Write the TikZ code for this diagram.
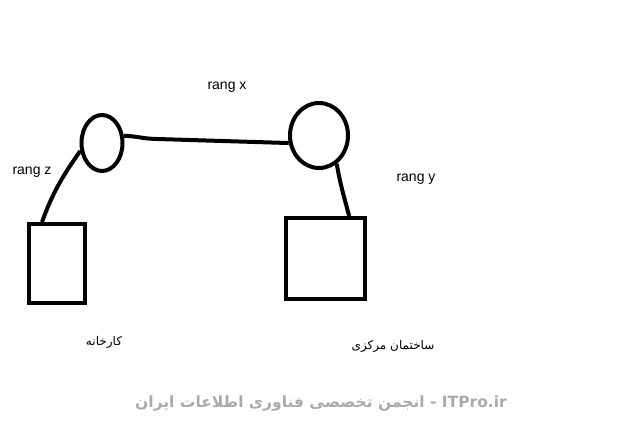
\documentclass[tikz,border=0pt]{standalone}
\usepackage{fontspec}
\setmainfont{Liberation Sans}
\newfontfamily\arabicfont[Script=Arabic]{DejaVu Sans}
\TeXXeTstate=1
\usetikzlibrary{shapes.geometric,calc,positioning}
\definecolor{wmgray}{RGB}{170,170,170}

\begin{document}
\begin{tikzpicture}[x=1pt, y=-1pt, line width=4pt,
    hub/.style={draw, ellipse, inner sep=0pt},
    site/.style={draw, rectangle, inner sep=0pt},
    lbl/.style={font=\fontsize{14}{16}\selectfont, inner sep=0pt},
    fa/.style={font=\arabicfont\fontsize{12}{14}\selectfont, inner sep=0pt}]

    \useasboundingbox[fill=white] (0,0) rectangle (643,427);

    \node[hub, minimum width=41pt, minimum height=56pt]  (zhub)  at (102,143)   {};
    \node[hub, minimum width=58pt, minimum height=65pt]  (yhub)  at (319,135.5) {};
    \node[site, minimum width=56pt, minimum height=79pt] (fact)  at (57,263.5)  {};
    \node[site, minimum width=79pt, minimum height=81pt] (hq)    at (325.5,258.5) {};

    \node[lbl] (rx) at (227,87)  {rang x};
    \node[lbl] (rz) at (32,172)  {rang z};
    \node[lbl] (ry) at (416,179) {rang y};

    \node[fa] (factname) at (104,342) {\beginR کارخانه\endR};
    \node[fa] (hqname)   at (393,346) {\beginR ساختمان مرکزی\endR};

    % links
    \draw (zhub.18) to[out=0, in=178] ($(zhub.18)+(30,3)$) -- (yhub.194);
    \draw (zhub.200) to[out=235, in=70] ($(fact.north west)!0.25!(fact.north east)$);
    \draw (yhub.-58) to[out=-80, in=105] ($(hq.north west)!0.785!(hq.north east)$);

    \node[font=\arabicfont\bfseries\fontsize{15.5}{18}\selectfont, text=wmgray, inner sep=0pt] (wm) at (321,404)
        {\beginR\beginL ITPro.ir\endL{} - انجمن تخصصی فناوری اطلاعات ایران\endR};

\end{tikzpicture}
\end{document}
